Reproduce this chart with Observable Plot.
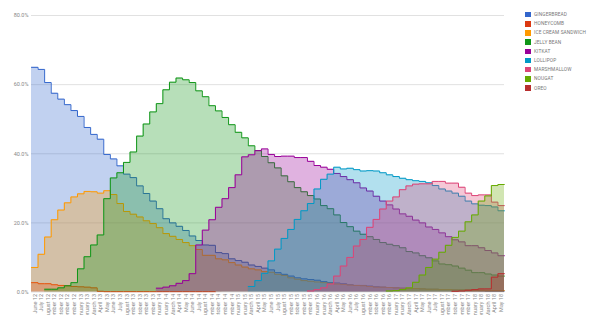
<!DOCTYPE html>
<html><head><meta charset="utf-8">
<script src="https://cdn.jsdelivr.net/npm/d3@7"></script>
<script src="https://cdn.jsdelivr.net/npm/@observablehq/plot@0.6"></script>
<style>
body{margin:0;background:#fff;font-family:Roboto,"Liberation Sans",sans-serif;}
#wrap{position:relative;width:600px;height:315px;overflow:hidden;}
#legend{position:absolute;left:525px;top:10px;font-size:4.8px;color:#777;letter-spacing:0.1px;}
.item{height:9.2px;display:flex;align-items:center;}
.sw{width:5.5px;height:5.5px;margin-right:3.5px;flex:none;}
</style></head><body>
<div id="wrap"><div id="chart"></div><div id="legend"></div></div>
<script>
const monthLabels = ["June 12","July 12","August 12","September 12","October 12","November 12","December 12",
"January 13","February 13","March 13","April 13","May 13","June 13","July 13","August 13","September 13","October 13","November 13","December 13",
"January 14","February 14","March 14","April 14","May 14","June 14","July 14","August 14","September 14","October 14","November 14","December 14",
"January 15","February 15","March 15","April 15","May 15","June 15","July 15","August 15","September 15","October 15","November 15","December 15",
"January 16","February 16","March 16","April 16","May 16","June 16","July 16","August 16","September 16","October 16","November 16","December 16",
"January 17","February 17","March 17","April 17","May 17","June 17","July 17","August 17","September 17","October 17","November 17","December 17",
"January 18","February 18","March 18","April 18","May 18"];

const seriesNames = ["GINGERBREAD","HONEYCOMB","ICE CREAM SANDWICH","JELLY BEAN","KITKAT","LOLLIPOP","MARSHMALLOW","NOUGAT","OREO"];
const seriesColors = ["#3366cc","#dc3912","#ff9900","#109618","#990099","#0099c6","#dd4477","#66aa00","#b82e2e"];

const gingerbread = [65.0,64.4,60.6,57.5,55.8,54.2,52.5,50.8,47.6,45.6,44.2,39.8,38.5,36.5,34.1,33.1,30.7,28.5,26.3,24.1,21.2,20.0,19.0,17.8,16.2,14.9,13.6,13.5,11.4,11.1,9.6,9.1,8.6,7.8,7.4,6.9,6.4,5.6,5.1,4.6,4.1,3.8,3.6,3.4,3.0,2.7,2.6,2.4,2.1,1.9,1.9,1.7,1.5,1.4,1.3,1.2,1.1,1.0,1.0,0.9,0.8,0.8,0.7,0.7,0.6,0.6,0.6,0.5,0.4,0.3,0.3,0.3];
const honeycomb = [2.7,2.4,2.4,2.1,1.9,1.8,1.6,1.5,1.4,1.2,0.2,0.1,0.1,0.1,0.1,0.1,0.1,0.1,0.1,0.1,0.1,0.1,0.1,0.1,0.1,0.1,0.1,0.1,0.1,null,null,null,null,null,null,null,null,null,null,null,null,null,null,null,null,null,null,null,null,null,null,null,null,null,null,null,null,null,null,null,null,null,null,null,null,null,null,null,null,null,null,null];
const iceCreamSandwich = [7.1,10.9,15.9,20.9,23.7,25.8,27.5,28.4,29.1,29.0,28.6,29.3,28.2,25.6,23.3,22.5,21.7,20.6,19.8,18.6,16.9,16.1,15.2,14.3,13.4,12.3,10.6,10.6,9.6,9.3,8.5,7.8,7.2,6.7,6.4,5.9,5.7,5.1,4.8,4.1,3.7,3.3,3.1,2.9,2.7,2.5,2.3,2.2,2.0,1.9,1.8,1.6,1.4,1.4,1.3,1.2,1.1,1.0,1.0,0.9,0.8,0.8,0.7,0.7,0.6,0.6,0.6,0.5,0.5,0.4,0.4,0.4];
const jellyBean = [null,null,0.8,0.8,1.2,1.8,2.7,6.7,10.2,13.6,16.5,27.0,33.0,34.5,37.5,40.5,45.1,48.6,52.1,54.5,58.5,60.7,61.9,61.4,60.6,58.2,56.5,53.9,52.4,50.5,48.4,46.2,44.6,42.3,40.9,39.2,37.4,35.9,33.6,31.9,30.2,29.0,27.9,26.9,25.0,24.1,22.3,20.1,18.9,17.6,16.7,16.0,15.2,14.3,13.8,13.4,12.8,11.7,11.3,10.5,9.9,9.0,8.1,7.9,7.5,6.9,6.3,5.6,5.6,5.2,4.9,4.6];
const kitkat = [null,null,null,null,null,null,null,null,null,null,null,null,null,null,null,null,null,null,null,1.1,1.4,1.8,2.5,3.3,5.3,13.6,17.9,20.9,24.5,27.0,30.2,33.9,39.1,39.7,40.9,41.4,39.8,39.2,39.3,39.3,38.9,38.9,37.8,36.6,36.1,35.5,34.3,33.4,32.5,31.6,30.1,29.2,27.7,26.3,25.2,24.0,22.6,21.9,20.8,20.0,18.8,18.1,17.1,16.0,15.1,14.5,13.4,13.4,12.8,12.0,11.3,10.5];
const lollipop = [null,null,null,null,null,null,null,null,null,null,null,null,null,null,null,null,null,null,null,null,null,null,null,null,null,null,null,null,null,null,null,null,null,1.6,3.3,5.4,9.0,12.4,15.5,18.1,21.0,23.5,25.6,29.8,32.6,34.1,36.1,35.6,35.8,35.4,35.0,35.1,35.0,34.5,33.9,33.4,32.9,32.5,32.2,32.0,31.6,30.8,29.8,29.2,28.6,27.7,26.3,25.5,25.1,25.0,24.6,23.5];
const marshmallow = [null,null,null,null,null,null,null,null,null,null,null,null,null,null,null,null,null,null,null,null,null,null,null,null,null,null,null,null,null,null,null,null,null,null,null,null,null,null,null,null,null,null,0.3,0.7,1.2,2.3,4.6,7.5,10.0,13.3,15.2,18.7,21.0,24.0,26.3,27.5,29.6,30.7,31.2,31.3,31.3,32.0,32.0,31.5,31.5,30.3,28.6,27.9,28.1,28.1,26.0,25.0];
const nougat = [null,null,null,null,null,null,null,null,null,null,null,null,null,null,null,null,null,null,null,null,null,null,null,null,null,null,null,null,null,null,null,null,null,null,null,null,null,null,null,null,null,null,null,null,null,null,null,null,null,null,null,null,null,null,0.3,0.4,0.7,1.2,2.8,4.9,7.1,9.5,11.5,13.5,15.8,17.6,20.3,22.3,26.3,27.8,30.8,31.1];
const oreo = [null,null,null,null,null,null,null,null,null,null,null,null,null,null,null,null,null,null,null,null,null,null,null,null,null,null,null,null,null,null,null,null,null,null,null,null,null,null,null,null,null,null,null,null,null,null,null,null,null,null,null,null,null,null,null,null,null,null,null,null,null,null,null,null,0.2,0.3,0.5,0.7,0.9,0.9,4.3,5.3];

const yTicks = [0,20,40,60,80];
const allSeries = [gingerbread,honeycomb,iceCreamSandwich,jellyBean,kitkat,lollipop,marshmallow,nougat,oreo];
const n = monthLabels.length;

// rows per series; final point repeated at index n so each month fills its full band
function rowsFor(vals){
  const r = vals.map((v,i)=>({i, v}));
  r.push({i:n, v:vals[n-1]});
  return r;
}

const marks = [Plot.gridY(yTicks, {stroke:"#d9d9d9", strokeOpacity:1, strokeWidth:0.8})];
allSeries.forEach((vals,k)=>{
  const rows = rowsFor(vals);
  marks.push(Plot.areaY(rows, {x:"i", y:"v", curve:"step-after", fill:seriesColors[k], fillOpacity:0.3}));
  marks.push(Plot.lineY(rows, {x:"i", y:"v", curve:"step-after", stroke:seriesColors[k], strokeWidth:1}));
});
marks.push(Plot.axisY(yTicks, {tickFormat:d=>d.toFixed(1)+"%", tickSize:0, tickPadding:3, fontSize:5.5, fill:"#888", label:null}));
marks.push(Plot.axisX(d3.range(n).map(i=>i+0.5), {tickFormat:d=>monthLabels[Math.floor(d)], tickRotate:-90, tickSize:0, tickPadding:2, fontSize:5.5, fill:"#888", label:null}));

const chart = Plot.plot({
  width:600, height:315,
  marginLeft:31, marginRight:96, marginTop:15, marginBottom:23.5,
  style:{background:"#fff", fontFamily:"Roboto, 'Liberation Sans', sans-serif", overflow:"hidden"},
  x:{domain:[0,n], type:"linear"},
  y:{domain:[0,80]},
  marks
});
document.getElementById("chart").appendChild(chart);

const leg = document.getElementById("legend");
seriesNames.forEach((name,k)=>{
  const it = document.createElement("div"); it.className="item";
  const sw = document.createElement("span"); sw.className="sw"; sw.style.background=seriesColors[k];
  const tx = document.createElement("span"); tx.textContent=name;
  it.appendChild(sw); it.appendChild(tx); leg.appendChild(it);
});
</script>
</body></html>
